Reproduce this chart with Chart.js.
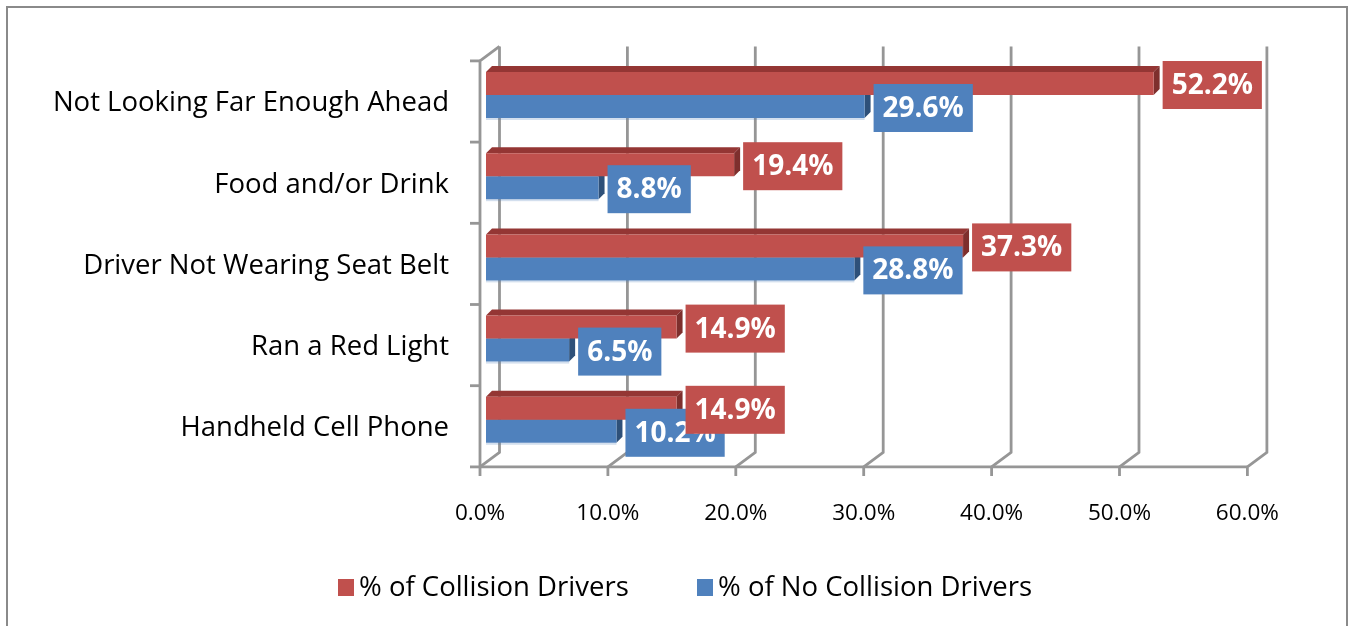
<!DOCTYPE html>
<html>
<head>
<meta charset="utf-8">
<script src="https://cdn.jsdelivr.net/npm/chart.js@4.4.1/dist/chart.umd.min.js"></script>
<style>
  html, body { margin: 0; padding: 0; background: #ffffff; }
  #wrap { width: 1349px; height: 626px; position: relative; }
</style>
</head>
<body>
<div id="wrap"><canvas id="c" width="1349" height="626"></canvas></div>
<script>
const categories = [
  "Not Looking Far Enough Ahead",
  "Food and/or Drink",
  "Driver Not Wearing Seat Belt",
  "Ran a Red Light",
  "Handheld Cell Phone"
];
const collisionDrivers = [52.2, 19.4, 37.3, 14.9, 14.9];
const noCollisionDrivers = [29.6, 8.8, 28.8, 6.5, 10.2];
const seriesNames = ["% of Collision Drivers", "% of No Collision Drivers"];
const xTicks = [0, 10, 20, 30, 40, 50, 60];

const RED = "#C0504D", BLUE = "#4F81BD";
const FACE = {
  [RED]: { top: "#943634", side: "#7e2f2d" },
  [BLUE]: { top: "#3a6393", side: "#2e5079" }
};
const FONT = "'Open Sans', 'Liberation Sans', sans-serif";
const DEPTH = 6;          // bar 3D depth (px)
const FRONT_DX = -6, FRONT_DY = 6.5;   // front wall relative to bar plane
const BACK_DX = 19.5, BACK_DY = -14.5; // back wall relative to front wall

const frame3d = {
  id: "frame3d",
  beforeDraw(chart) {
    const ctx = chart.ctx;
    ctx.save();
    ctx.fillStyle = "#ffffff";
    ctx.fillRect(0, 0, chart.width, chart.height);
    ctx.strokeStyle = "#8a8a8a";
    ctx.lineWidth = 2;
    ctx.strokeRect(7, 7, 1340, 640);
    ctx.restore();
  },
  beforeDatasetsDraw(chart) {
    const ctx = chart.ctx, xs = chart.scales.x, ca = chart.chartArea;
    const fTop = ca.top + FRONT_DY, fBot = ca.bottom + FRONT_DY;
    const bTop = fTop + BACK_DY, bBot = fBot + BACK_DY;
    ctx.save();
    ctx.strokeStyle = "#969696";
    ctx.lineWidth = 2.8;
    ctx.lineJoin = "round";
    xTicks.forEach(v => {
      const fx = xs.getPixelForValue(v) + FRONT_DX;
      const bx = fx + BACK_DX;
      ctx.beginPath();
      ctx.moveTo(bx, bTop);
      ctx.lineTo(bx, bBot);
      ctx.lineTo(fx, fBot);
      ctx.lineTo(fx, fBot + 9);
      ctx.stroke();
    });
    const f0 = xs.getPixelForValue(0) + FRONT_DX;
    const f60 = xs.getPixelForValue(60) + FRONT_DX;
    ctx.beginPath();
    ctx.moveTo(f0, fBot); ctx.lineTo(f60, fBot);
    ctx.stroke();
    ctx.beginPath();
    ctx.moveTo(f0 + BACK_DX, bTop);
    ctx.lineTo(f0, fTop);
    ctx.lineTo(f0, fBot);
    ctx.stroke();
    const n = categories.length;
    for (let i = 0; i <= n; i++) {
      const y = fTop + (fBot - fTop) * i / n;
      ctx.beginPath();
      ctx.moveTo(f0 - 10, y); ctx.lineTo(f0, y);
      ctx.stroke();
    }
    chart.data.datasets.forEach((ds, di) => {
      const meta = chart.getDatasetMeta(di);
      const f = FACE[ds.backgroundColor];
      meta.data.forEach(el => {
        const x0 = el.base, x1 = el.x;
        const top = el.y - el.height / 2, bot = el.y + el.height / 2;
        ctx.fillStyle = f.top;
        ctx.beginPath();
        ctx.moveTo(x0, top); ctx.lineTo(x0 + DEPTH, top - DEPTH);
        ctx.lineTo(x1 + DEPTH, top - DEPTH); ctx.lineTo(x1, top);
        ctx.closePath(); ctx.fill();
        ctx.fillStyle = f.side;
        ctx.beginPath();
        ctx.moveTo(x1, top); ctx.lineTo(x1 + DEPTH, top - DEPTH);
        ctx.lineTo(x1 + DEPTH, bot - DEPTH); ctx.lineTo(x1, bot);
        ctx.closePath(); ctx.fill();
        if (ds.backgroundColor === BLUE) {
          ctx.fillStyle = "rgba(79,129,189,0.25)";
          ctx.fillRect(x0, bot, x1 - x0, 2);
        }
      });
    });
    ctx.restore();
  },
  afterDatasetsDraw(chart) {
    const ctx = chart.ctx;
    ctx.save();
    ctx.font = "bold 28px " + FONT;
    ctx.textAlign = "center";
    ctx.textBaseline = "middle";
    [1, 0].forEach(di => {
      const ds = chart.data.datasets[di];
      const meta = chart.getDatasetMeta(di);
      meta.data.forEach((el, i) => {
        const txt = ds.data[i].toFixed(1) + "%";
        const w = ctx.measureText(txt).width + 18;
        const h = 48;
        const left = el.x + 9;
        const cy = el.y + 1.5;
        ctx.fillStyle = ds.backgroundColor;
        ctx.fillRect(left, cy - h / 2, w, h);
        ctx.fillStyle = "#ffffff";
        ctx.fillText(txt, left + w / 2, cy + 1);
      });
    });
    ctx.restore();
  },
  afterDraw(chart) {
    const ctx = chart.ctx;
    ctx.save();
    ctx.font = "27.5px " + FONT;
    ctx.textBaseline = "middle";
    ctx.textAlign = "left";
    const items = [
      { x: 338, color: RED, label: chart.data.datasets[0].label },
      { x: 697, color: BLUE, label: chart.data.datasets[1].label }
    ];
    items.forEach(it => {
      ctx.fillStyle = it.color;
      ctx.fillRect(it.x, 579, 16, 17);
      ctx.fillStyle = "#000000";
      ctx.fillText(it.label, it.x + 21, 588.5);
    });
    ctx.restore();
  }
};

new Chart(document.getElementById("c"), {
  type: "bar",
  data: {
    labels: categories,
    datasets: [
      { label: seriesNames[0], data: collisionDrivers, backgroundColor: RED, borderWidth: 0 },
      { label: seriesNames[1], data: noCollisionDrivers, backgroundColor: BLUE, borderWidth: 0 }
    ]
  },
  options: {
    indexAxis: "y",
    responsive: false,
    animation: false,
    devicePixelRatio: 1,
    layout: { padding: { left: 0, top: 54.4, right: 95.6, bottom: 0 } },
    categoryPercentage: 0.566,
    barPercentage: 1.0,
    plugins: { legend: { display: false }, tooltip: { enabled: false } },
    scales: {
      x: {
        min: 0, max: 60,
        afterFit(s) { s.height = 626 - 460.4; },
        afterBuildTicks(s) { s.ticks = xTicks.map(v => ({ value: v })); },
        grid: { display: false, drawTicks: false },
        border: { display: false },
        ticks: {
          callback: v => Number(v).toFixed(1) + "%",
          font: { family: FONT, size: 22.5 },
          color: "#000000",
          padding: 40,
          labelOffset: -6,
          maxRotation: 0
        }
      },
      y: {
        afterFit(s) { s.width = 486; },
        grid: { display: false, drawTicks: false },
        border: { display: false },
        ticks: {
          font: { family: FONT, size: 27.5 },
          color: "#000000",
          padding: 37,
          labelOffset: 8.5
        }
      }
    }
  },
  plugins: [frame3d]
});
</script>
</body>
</html>
